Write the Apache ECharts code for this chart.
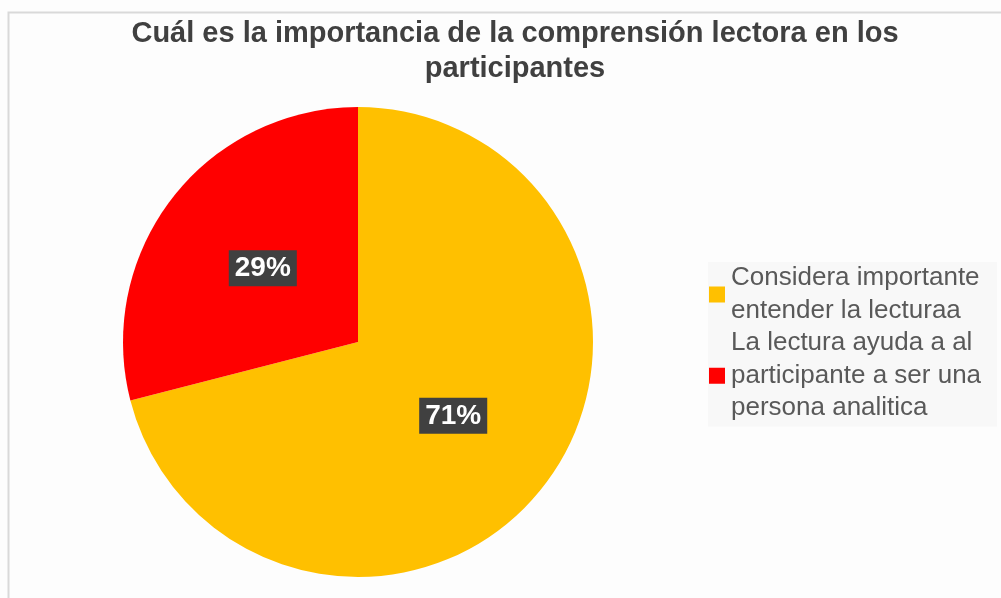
<!DOCTYPE html>
<html>
<head>
<meta charset="utf-8">
<script src="https://cdn.jsdelivr.net/npm/echarts@6/dist/echarts.min.js"></script>
<style>
html,body{margin:0;padding:0;background:#fff;}
#chart{width:1001px;height:598px;}
</style>
</head>
<body>
<div id="chart"></div>
<script>
var titleText = 'Cuál es la importancia de la comprensión lectora en los\nparticipantes';
var categories = ['Considera importante entender la lecturaa', 'La lectura ayuda a al participante a ser una persona analitica'];
var legendLines = {
  'Considera importante entender la lecturaa': 'Considera importante\nentender la lecturaa',
  'La lectura ayuda a al participante a ser una persona analitica': 'La lectura ayuda a al\nparticipante a ser una\npersona analitica'
};
var values = [71, 29];
var colors = ['#FFC000', '#FF0000'];

var chart = echarts.init(document.getElementById('chart'), null, {renderer: 'canvas'});
chart.setOption({
  backgroundColor: '#fdfdfd',
  animation: false,
  color: colors,
  graphic: [{
    type: 'rect',
    shape: {x: 8.5, y: 12.5, width: 1010, height: 600},
    style: {fill: 'none', stroke: '#d9d9d9', lineWidth: 2},
    silent: true
  }],
  title: {
    text: titleText,
    left: 510,
    textAlign: 'center',
    top: 11,
    textStyle: {
      fontFamily: 'Liberation Sans, Arial, sans-serif',
      fontSize: 29,
      fontWeight: 'bold',
      color: '#404040',
      lineHeight: 35
    }
  },
  legend: {
    orient: 'vertical',
    left: 708,
    top: 262,
    itemWidth: 16,
    itemHeight: 16,
    itemGap: 0,
    padding: [0, 16, 2, 1],
    backgroundColor: '#f8f8f8',
    icon: 'rect',
    data: categories,
    formatter: function (n) { return legendLines[n]; },
    textStyle: {
      fontFamily: 'Liberation Sans, Arial, sans-serif',
      fontSize: 26,
      color: '#595959',
      lineHeight: 32.5,
      padding: [0, 0, 0, 1]
    }
  },
  series: [{
    type: 'pie',
    center: [358, 342],
    radius: [0, 235],
    startAngle: 90,
    clockwise: true,
    data: categories.map(function (c, i) { return {name: c, value: values[i]}; }),
    itemStyle: {borderWidth: 0},
    label: {
      show: true,
      position: 'inside',
      formatter: function (p) { return Math.round(p.percent) + '%'; },
      fontFamily: 'Liberation Sans, Arial, sans-serif',
      fontSize: 28,
      fontWeight: 'bold',
      color: '#ffffff',
      backgroundColor: '#404040',
      padding: [5, 6, 3, 6]
    },
    labelLine: {show: false},
    emphasis: {disabled: true}
  }]
});
</script>
</body>
</html>
